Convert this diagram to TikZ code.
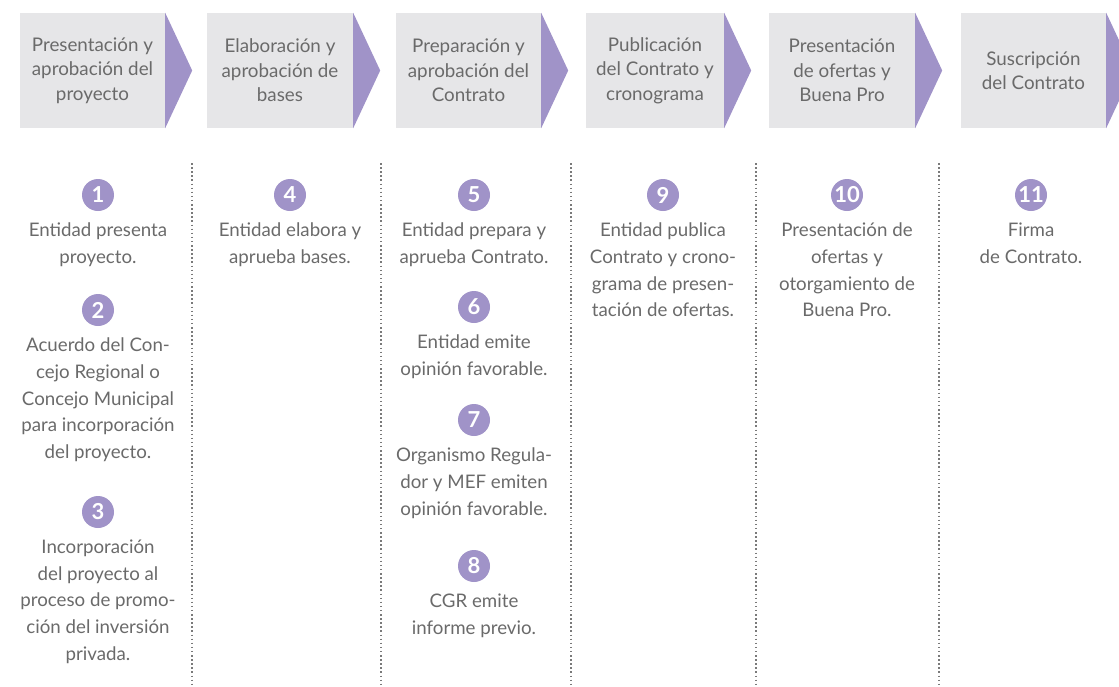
\documentclass[tikz,border=0pt]{standalone}
\usepackage{fontspec}
\setmainfont{Lato}
\usetikzlibrary{positioning}
\definecolor{boxgray}{HTML}{E6E6E8}
\definecolor{stagepurple}{HTML}{A093C8}
\definecolor{textgray}{HTML}{6A6A6A}
\definecolor{dotgray}{HTML}{7A7A7A}

\begin{document}
\begin{tikzpicture}[x=1pt,y=-1pt,node distance=11.5pt,
  phase/.style={fill=boxgray,text=textgray,minimum height=115pt,inner sep=0pt,
    align=center,font=\fontsize{18.8}{24.5}\selectfont},
  badge/.style={circle,fill=stagepurple,text=white,minimum size=32pt,inner sep=0pt,
    font=\fontsize{22}{22}\selectfont\bfseries},
  entry/.style={align=center,text=textgray,inner sep=0pt,
    font=\fontsize{18.7}{26.7}\selectfont},
  tip/.style={fill=stagepurple},
  separator/.style={draw=dotgray,line width=1.5pt,dash pattern=on 1.5pt off 2.6pt}]
  \useasboundingbox (0,0) rectangle (1119,686);

  % etapas
  \node[phase, minimum width=145pt] (h1) at (92.5,70.5) {Presentación y\\aprobación del\\proyecto};
  \node[phase, minimum width=146pt] (h2) at (280,70.5) {Elaboración y\\aprobación de\\bases};
  \node[phase, minimum width=145pt] (h3) at (468.5,70.5) {Preparación y\\aprobación del\\Contrato};
  \node[phase, minimum width=138pt] (h4) at (655,70.5) {Publicación\\del Contrato y\\cronograma};
  \node[phase, minimum width=146pt] (h5) at (842,70.5) {Presentación\\de ofertas y\\Buena Pro};
  \node[phase, minimum width=145pt] (h6) at (1033.5,70.5) {Suscripción\\del Contrato};

  \path[tip]
    (h1.north east) -- ([xshift=27pt]h1.east) -- (h1.south east) -- cycle
    (h2.north east) -- ([xshift=27pt]h2.east) -- (h2.south east) -- cycle
    (h3.north east) -- ([xshift=27pt]h3.east) -- (h3.south east) -- cycle
    (h4.north east) -- ([xshift=27pt]h4.east) -- (h4.south east) -- cycle
    (h5.north east) -- ([xshift=27pt]h5.east) -- (h5.south east) -- cycle
    (h6.north east) -- ([xshift=27pt]h6.east) -- (h6.south east) -- cycle;

  \path[separator]
    (192,163) -- (192,686)
    (381,163) -- (381,686)
    (571,163) -- (571,686)
    (756,163) -- (756,686)
    (939,163) -- (939,686);

  % pasos
  \node[badge] (n1) at (98,195) {1};
  \node[entry] (t1) [below=of n1] {Entidad presenta\\proyecto.};
  \node[badge] (n2) at (98,310) {2};
  \node[entry] (t2) [below=of n2] {Acuerdo del Con-\\cejo Regional o\\Concejo Municipal\\para incorporación\\del proyecto.};
  \node[badge] (n3) at (98,512) {3};
  \node[entry] (t3) [below=of n3] {Incorporación\\del proyecto al\\proceso de promo-\\ción del inversión\\privada.};

  \node[badge] (n4) at (290,195) {4};
  \node[entry] (t4) [below=of n4] {Entidad elabora y\\aprueba bases.};

  \node[badge] (n5) at (474,195) {5};
  \node[entry] (t5) [below=of n5] {Entidad prepara y\\aprueba Contrato.};
  \node[badge] (n6) at (474,307) {6};
  \node[entry] (t6) [below=of n6] {Entidad emite\\opinión favorable.};
  \node[badge] (n7) at (474,420) {7};
  \node[entry] (t7) [below=of n7] {Organismo Regula-\\dor y MEF emiten\\opinión favorable.};
  \node[badge] (n8) at (474,566) {8};
  \node[entry] (t8) [below=of n8] {CGR emite\\informe previo.};

  \node[badge] (n9) at (663,195) {9};
  \node[entry] (t9) [below=of n9] {Entidad publica\\Contrato y crono-\\grama de presen-\\tación de ofertas.};

  \node[badge] (n10) at (847,195) {10};
  \node[entry] (t10) [below=of n10] {Presentación de\\ofertas y\\otorgamiento de\\Buena Pro.};

  \node[badge] (n11) at (1031,195) {11};
  \node[entry] (t11) [below=of n11] {Firma\\de Contrato.};
\end{tikzpicture}
\end{document}
